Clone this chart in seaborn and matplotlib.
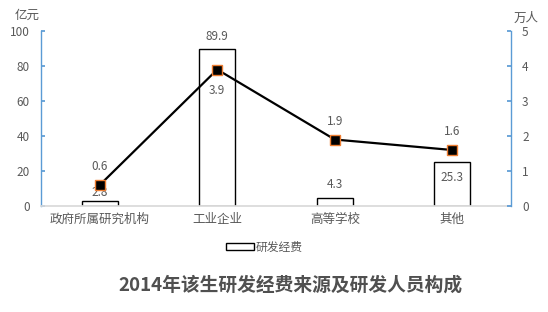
import matplotlib
matplotlib.use("Agg")
import matplotlib.pyplot as plt
import seaborn as sns
import pandas as pd

categories = ["政府所属研究机构", "工业企业", "高等学校", "其他"]
funds = [2.8, 89.9, 4.3, 25.3]          # 亿元
personnel = [0.6, 3.9, 1.9, 1.6]        # 万人
left_ticks = [0, 20, 40, 60, 80, 100]
right_ticks = [0, 1, 2, 3, 4, 5]

sns.set_theme(style="white")
plt.rcParams['font.family'] = ['Noto Sans CJK SC', 'DejaVu Sans']

GRAY = "#595959"
BLUE = "#5B9BD5"

fig = plt.figure(figsize=(5.48, 3.12), dpi=100)
ax = fig.add_axes([0.0748, 0.3397, 0.8577, 0.5609])

df = pd.DataFrame({"cat": categories, "funds": funds, "personnel": personnel})
sns.barplot(data=df, x="cat", y="funds", ax=ax, color="white", edgecolor="black",
            linewidth=1.0, width=0.31, label="研发经费")
ax.set_xlim(-0.5, 3.5)
ax.set_ylim(0, 100)
ax.set_yticks(left_ticks)
ax.set_xlabel("")
ax.set_ylabel("")

ax2 = ax.twinx()
sns.lineplot(data=df, x="cat", y="personnel", ax=ax2, color="black", linewidth=1.6,
             marker="s", markersize=7, markerfacecolor="black",
             markeredgecolor="#ED7D31", markeredgewidth=1.0, legend=False)
ax2.set_ylim(0, 5)
ax2.set_yticks(right_ticks)
ax2.set_ylabel("")
ax2.set_xlabel("")
ax2.set_xlim(-0.5, 3.5)

for a in (ax, ax2):
    for s in ["top"]:
        a.spines[s].set_visible(False)
    a.spines["left"].set_color(BLUE)
    a.spines["right"].set_color(BLUE)
    a.spines["bottom"].set_color("#D9D9D9")
    a.spines["left"].set_linewidth(1.0)
    a.spines["right"].set_linewidth(1.0)
ax.spines["right"].set_visible(False)
ax2.spines["left"].set_visible(False)
ax2.spines["bottom"].set_visible(False)

ax.tick_params(axis="y", direction="in", length=3, color=BLUE, labelsize=8.5,
               labelcolor=GRAY, left=True, pad=8)
ax.tick_params(axis="x", length=0, labelsize=9, labelcolor=GRAY, pad=5)
ax2.tick_params(axis="y", direction="in", length=3, color=BLUE, labelsize=8.5,
                labelcolor=GRAY, right=True, pad=8)

# bar value labels (offsets in points)
bar_offsets = [6, 9, 10, -11]
for i, (v, off) in enumerate(zip(funds, bar_offsets)):
    ax.annotate(f"{v:.1f}", (i, v), xytext=(0, off), textcoords="offset points",
                ha="center", va="center", fontsize=8.5, color=GRAY)

line_offsets = [13, -15, 13, 13]
for i, (v, off) in enumerate(zip(personnel, line_offsets)):
    ax2.annotate(f"{v:.1f}", (i, v), xytext=(0, off), textcoords="offset points",
                 ha="center", va="center", fontsize=8.5, color=GRAY)

fig.text(0.050, 0.950, "亿元", ha="center", va="center", fontsize=9, color=GRAY)
fig.text(0.960, 0.942, "万人", ha="center", va="center", fontsize=9, color=GRAY)

leg = ax.legend(loc="center", bbox_to_anchor=(0.483, 0.208), bbox_transform=fig.transFigure,
                frameon=False, fontsize=8.5, handlelength=2.3, handleheight=0.55,
                handletextpad=0.2)
for t in leg.get_texts():
    t.set_color(GRAY)

fig.text(0.53, 0.087, "2014年该生研发经费来源及研发人员构成", ha="center", va="center",
         fontsize=13.5, fontweight="bold", color="#505050")

fig.savefig("out.png", dpi=100)
